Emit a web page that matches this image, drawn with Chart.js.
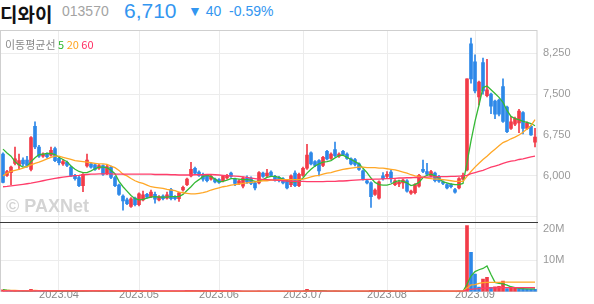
<!DOCTYPE html>
<html>
<head>
<meta charset="utf-8">
<script src="https://cdn.jsdelivr.net/npm/chart.js@4.4.0/dist/chart.umd.min.js"></script>
<style>
body { margin: 0; background: #fff; }
#wrap { position: relative; width: 594px; height: 304px; overflow: hidden; font-family: "Liberation Sans", Arial, sans-serif; }
.t { position: absolute; white-space: nowrap; line-height: 1; }
#chart { position: absolute; left: 0; top: 30px; }
</style>
</head>
<body>
<div id="wrap">
  <span class="t" style="left:0;top:0px;font:bold 19px 'Noto Sans CJK KR';color:#111">디와이</span>
  <span class="t" style="left:62px;top:4px;font-size:14px;color:#a3a3a3">013570</span>
  <span class="t" style="left:124px;top:0px;font-size:21px;color:#3396f0">6,710</span>
  <span class="t" style="left:188px;top:4px;font-size:14px;color:#3396f0">▼ 40 &nbsp;-0.59%</span>
  <canvas id="chart" width="594" height="274"></canvas>
  <span class="t" style="left:5px;top:36px;font:11px 'Noto Sans CJK KR';color:#888">이동평균선 <span style="color:#2eb82e">5</span> <span style="color:#ffa41c">20</span> <span style="color:#ff2d62">60</span></span>
  <span class="t" style="left:6px;top:196px;font:bold 18px 'Liberation Sans';color:#d4d4d4">© PAXNet</span>
</div>
<script>
// trading days shown (2023)
var months = ['03', '04', '05', '06', '07', '08', '09'];
var days = [
  [14,15,16,17,20,21,22,23,24,27,28,29,30,31],
  [3,4,5,6,7,10,11,12,13,14,17,18,19,20,21,24,25,26,27,28],
  [2,3,4,8,9,10,11,12,15,16,17,18,19,22,23,24,25,26,30,31],
  [1,2,5,7,8,9,12,13,14,15,16,19,20,21,22,23,26,27,28,29,30],
  [3,4,5,6,7,10,11,12,13,14,17,18,19,20,21,24,25,26,27,28,31],
  [1,2,3,4,7,8,9,10,11,14,16,17,18,21,22,23,24,25,28,29,30,31],
  [1,4,5,6,7,8,11,12,13,14,15,18,19,20,21,22]
];
var monthTicks = ['2023.04', '2023.05', '2023.06', '2023.07', '2023.08', '2023.09'];

var open = [6400,6010,6060,6230,6200,6290,6290,6120,6910,6530, 6360,6400,6380,6500,6320,6220,6250,6160,6010,5970,
  5820,6180,6220,6200,6140,6190,6040,6160,5970,5830, 5630,5560,5440,5590,5470,5560,5660,5620,5660,5560,
  5630,5590,5750,5620,5580,5740,5840,6000,6140,6070, 6030,6010,5940,5940,5930,5910,5960,6050,5940,5860,
  5810,5960,5960,5870,5870,6050,6000,6070,5990,5970, 5950,5910,5840,6050,5820,6010,6140,6420,6260,6280,
  6190,6450,6320,6480,6360,6450,6400,6310,6300,6220, 6090,5910,5870,5660,5590,6000,5990,6070,5840,5850,
  5870,5910,5680,5690,5810,6120,6080,6000,6050,5990, 5890,5840,5840,5750,5780,5940,6110,8420,8090,7450,
  8080,7470,7500,7370,7390,7640,7260,6870,6950,6970, 7160,6870,6910,6620];
var high = [6420,6100,6180,6530,6400,6330,6360,6720,6990,6560, 6420,6420,6530,6530,6340,6300,6270,6180,6030,5990,
  6040,6400,6240,6220,6210,6200,6200,6180,5990,5850, 5650,5590,5600,5610,5690,5720,5680,5740,5700,5640,
  5650,5700,5770,5640,5700,5810,5960,6250,6160,6090, 6050,6030,6010,5960,5950,6010,6030,6070,5960,5930,
  5980,6000,5980,5890,6080,6070,6120,6090,6010,5990, 5970,5930,6020,6090,6050,6160,6580,6440,6280,6300,
  6360,6470,6420,6620,6420,6470,6420,6330,6320,6240, 6110,5930,5890,5760,5910,6060,6080,6100,5930,5920,
  5940,5930,5740,5860,6030,6290,6230,6100,6070,6010, 5910,5860,5860,5770,5970,6050,7780,8530,8220,7740,
  8160,8140,7520,7390,7410,7780,7280,7090,7080,7220, 7180,6990,6930,6870];
var low = [5870,5990,5840,6200,6120,6180,6160,6090,6500,6340, 6340,6330,6360,6260,6200,6190,6170,5990,5920,5800,
  5710,6160,6140,6100,6120,6010,6020,5950,5800,5640, 5370,5470,5420,5450,5450,5540,5590,5600,5500,5540,
  5560,5570,5560,5560,5530,5720,5820,5980,6030,5990, 5900,5890,5920,5870,5860,5890,5940,5970,5820,5840,
  5780,5860,5840,5740,5850,5970,5980,5990,5900,5890, 5850,5760,5800,5800,5800,5990,6120,6200,6170,6000,
  6170,6290,6300,6350,6340,6370,6300,6200,6180,6100, 5920,5850,5420,5640,5570,5920,5950,5880,5820,5800,
  5770,5700,5660,5670,5790,6060,6010,5980,5890,5880, 5840,5760,5780,5680,5760,5920,6090,7700,7520,7300,
  7500,7450,7140,7050,7100,6980,6790,6850,6920,6790, 6770,6850,6740,6530];
var close = [5880,6080,6160,6310,6280,6220,6190,6700,6530,6360, 6400,6350,6470,6280,6240,6260,6190,6000,5950,5820,
  6030,6290,6160,6120,6190,6030,6170,5970,5820,5660, 5540,5490,5580,5470,5670,5650,5610,5700,5570,5620,
  5580,5650,5580,5580,5690,5790,5940,6120,6050,6010, 5940,5910,5990,5890,5880,5990,6010,5990,5860,5910,
  5960,5890,5860,5780,6060,5990,6050,6010,5920,5910, 5870,5780,6000,5820,6030,6140,6380,6220,6190,6090,
  6340,6310,6400,6370,6400,6390,6320,6220,6210,6120, 5940,5870,5620,5740,5890,5950,6030,5950,5910,5880,
  5920,5720,5720,5840,6010,6080,6030,6080,5910,5900, 5860,5780,5800,5700,5950,6010,7780,7780,7560,7720,
  7560,7580,7280,7130,7130,7000,6810,6990,7050,7190, 6870,6970,6750,6710];

var ma5 = [6490,6420,6360,6260,6200,6160,6170,6260,6330,6390, 6400,6410,6410,6390,6340,6300,6260,6180,6120,6080,
  6060,6060,6090,6130,6160,6160,6150,6100,6040,5900, 5800,5720,5640,5580,5560,5570,5590,5610,5620,5610,
  5610,5610,5620,5620,5620,5660,5730,5800,5880,5930, 5990,6010,5990,5940,5890,5900,5920,5950,5950,5940,
  5930,5930,5920,5900,5900,5930,5970,5990,5990,5970, 5940,5910,5890,5890,5900,5960,6050,6120,6180,6220,
  6250,6260,6280,6330,6370,6380,6340,6300,6260,6220, 6140,6060,5960,5880,5840,5830,5830,5850,5890,5910,
  5900,5870,5820,5840,5880,5970,6010,6030,6000,5950, 5890,5870,5850,5840,5840,5860,6240,6640,7000,7300,
  7620,7650,7580,7510,7440,7350,7200,7090,7050,7030, 7000,6980,6960,6920];
var ma20 = [6000,6050,6080,6100,6120,6140,6170,6200,6230,6250, 6280,6310,6340,6360,6360,6340,6320,6300,6280,6270,
  6260,6250,6240,6230,6220,6220,6210,6180,6150,6100, 6030,6000,5950,5910,5880,5860,5830,5800,5790,5780,
  5770,5750,5740,5730,5700,5690,5680,5670,5670,5680, 5690,5710,5740,5760,5780,5800,5810,5830,5840,5850,
  5860,5870,5880,5890,5900,5910,5910,5920,5920,5930, 5930,5930,5930,5930,5930,5940,5960,5980,6000,6010,
  6030,6050,6060,6080,6100,6120,6130,6140,6150,6160, 6160,6150,6150,6150,6140,6140,6130,6120,6110,6090,
  6070,6050,6020,6000,5990,5970,5960,5950,5940,5940, 5930,5920,5910,5900,5900,5900,5990,6080,6160,6230,
  6300,6360,6430,6490,6550,6610,6640,6680,6710,6750, 6800,6860,6920,7030];
var ma60 = [5800,5805,5815,5825,5835,5845,5855,5865,5880,5895, 5910,5925,5940,5955,5965,5975,5985,5995,6005,6010,
  6020,6025,6030,6030,6035,6035,6035,6035,6030,6030, 6030,6030,6030,6030,6030,6030,6030,6030,6025,6025,
  6025,6025,6020,6020,6015,6015,6015,6015,6020,6020, 6020,6025,6025,6020,6015,6010,6005,6000,5995,5990,
  5980,5970,5960,5950,5940,5935,5930,5925,5920,5915, 5910,5905,5900,5900,5900,5900,5895,5895,5895,5895,
  5895,5900,5900,5900,5905,5905,5910,5915,5920,5925, 5930,5935,5935,5940,5940,5945,5950,5950,5955,5960,
  5960,5965,5965,5970,5970,5975,5975,5980,5980,5985, 5985,5985,5990,5990,5995,5995,6010,6040,6060,6080,
  6100,6130,6160,6180,6200,6230,6250,6270,6280,6300, 6310,6330,6350,6360];

// volume, thousand shares
var volume = [600,350,250,300,200,180,150,750,420,230, 150,120,180,200,140,110,100,160,120,200,
  230,260,150,120,100,130,110,150,180,240, 260,150,170,120,160,130,90,110,120,80,
  90,100,140,80,110,130,380,420,200,130, 150,120,100,90,110,130,100,120,140,90,
  150,110,120,140,200,130,120,100,110,90, 100,140,180,200,190,220,800,450,200,260,
  230,180,150,220,120,130,110,140,120,130, 180,150,450,300,260,140,120,160,110,100,
  110,160,120,150,220,240,160,130,140,110, 100,120,110,130,200,230,21000,12500,5600,1500,
  4000,4600,1400,1600,1700,3400,1000,1100,1150,1000, 900,850,800,750];
var volMa5 = [650,500,380,320,300,260,220,320,340,350, 340,330,220,180,160,150,150,140,130,140,
  160,190,190,190,170,150,120,120,130,160, 190,200,200,190,170,150,130,120,120,110,
  100,100,110,100,100,110,170,220,250,250, 260,200,140,120,110,110,110,110,120,120,
  120,120,120,120,140,140,140,140,130,120, 100,110,120,140,160,190,300,370,370,390,
  390,260,210,200,180,160,150,140,130,130, 140,150,210,240,270,260,250,200,160,140,
  130,130,120,130,150,180,180,180,170,170, 150,130,120,120,130,160,2400,5000,6400,7000,
  7400,8200,5500,3000,2700,2500,2100,1600,1300,1100, 1000,900,900,900];
var volMa20 = [400,410,420,410,400,400,390,400,410,400, 400,400,390,390,380,380,370,370,360,360,
  350,350,340,340,330,330,320,320,300,180, 170,170,170,160,160,160,160,150,150,150,
  150,150,150,150,150,160,170,180,180,180, 180,180,180,170,170,170,160,160,160,150,
  150,150,150,150,150,150,150,150,140,140, 140,140,140,150,150,160,190,200,200,210,
  220,220,220,230,230,230,230,220,220,220, 210,210,220,220,220,220,210,210,210,200,
  200,200,190,190,190,180,180,180,180,180, 170,170,170,170,170,170,1200,2200,2300,2700,
  2900,3000,3000,3000,3000,3050,3050,3050,3050,3050, 3050,3050,3050,3050];
var volMa60 = [250,250,250,250,250,250,250,250,250,250, 250,250,250,250,250,250,250,250,250,250,
  250,250,250,250,250,250,250,250,250,250, 250,250,250,250,250,250,250,250,250,250,
  250,250,250,250,250,250,250,250,250,250, 250,250,250,250,250,250,250,250,250,250,
  240,240,240,240,240,240,240,240,240,240, 240,240,240,240,240,240,240,240,240,240,
  230,230,230,230,230,230,230,230,230,230, 230,230,230,230,230,230,230,230,230,230,
  220,220,220,220,220,220,220,220,220,220, 220,220,220,220,220,220,600,800,950,1000,
  1100,1200,1250,1250,1300,1300,1300,1300,1300,1300, 1300,1300,1300,1300];

var priceTicks = [5250, 6000, 6750, 7500, 8250];
var volTicks = [0, 10000, 20000];

var UP = '#f23b48', DOWN = '#2d88e8';

var labels = [];
var monthLabelAt = {};
months.forEach(function (m, k) {
  days[k].forEach(function (d, j) {
    var lab = '2023.' + m + '.' + (d < 10 ? '0' + d : d);
    if (j === 0 && monthTicks.indexOf('2023.' + m) >= 0) monthLabelAt[labels.length] = '2023.' + m;
    labels.push(lab);
  });
});

var wicks = low.map(function (l, i) { return [l, high[i]]; });
var bodies = open.map(function (o, i) { return [o, close[i]]; });
function candleColor(ctx) { return close[ctx.dataIndex] >= open[ctx.dataIndex] ? UP : DOWN; }
function volColor(ctx) {
  var i = ctx.dataIndex;
  return (i === 0 || volume[i] >= volume[i - 1]) ? UP : DOWN;
}
function line(data, color, axis) {
  return { type: 'line', data: data, yAxisID: axis, borderColor: color, borderWidth: 1.3,
    pointRadius: 0, tension: 0, order: 0 };
}
function fixWidth(s) { s.width = 57; s.paddingTop = 0; s.paddingBottom = 0; }

var framePlugin = {
  id: 'frame',
  beforeDatasetsDraw: function (chart) {
    var c = chart.ctx, a = chart.chartArea, yP = chart.scales.yP;
    c.save();
    c.strokeStyle = '#cfcfcf';
    c.lineWidth = 1;
    c.strokeRect(a.left - 0.5, a.top + 0.5, a.right - a.left + 0.5, a.bottom - a.top - 1);
    c.strokeStyle = '#3a3a3a';
    c.beginPath();
    c.moveTo(0, Math.round(yP.bottom) + 0.5);
    c.lineTo(a.right + 1, Math.round(yP.bottom) + 0.5);
    c.stroke();
    c.restore();
  }
};

new Chart(document.getElementById('chart').getContext('2d'), {
  data: {
    labels: labels,
    datasets: [
      line(ma60, '#ff3d6a', 'yP'),
      line(ma20, '#ffa726', 'yP'),
      line(ma5, '#35b935', 'yP'),
      line(volMa60, '#ff3d6a', 'yV'),
      line(volMa20, '#ffa726', 'yV'),
      line(volMa5, '#35b935', 'yV'),
      { type: 'bar', data: bodies, yAxisID: 'yP', backgroundColor: candleColor, barThickness: 3,
        minBarLength: 1, grouped: false, order: 1 },
      { type: 'bar', data: wicks, yAxisID: 'yP', backgroundColor: candleColor, barThickness: 1,
        grouped: false, order: 2 },
      { type: 'bar', data: volume, yAxisID: 'yV', backgroundColor: volColor, barThickness: 3,
        grouped: false, order: 1 }
    ]
  },
  options: {
    responsive: false,
    animation: false,
    devicePixelRatio: 1,
    layout: { padding: { left: 1, right: 0, top: 0, bottom: 5 } },
    plugins: { legend: { display: false }, tooltip: { enabled: false } },
    scales: {
      x: {
        type: 'category',
        offset: true,
        border: { display: false },
        grid: {
          offset: false,
          drawTicks: false,
          color: function (ctx) { return monthLabelAt[ctx.index] ? '#ececec' : 'rgba(0,0,0,0)'; }
        },
        ticks: {
          autoSkip: false,
          maxRotation: 0,
          padding: -3,
          color: '#888',
          font: { family: 'Liberation Sans', size: 11 },
          callback: function (v, i) { return monthLabelAt[i] || ''; }
        }
      },
      yP: {
        type: 'linear',
        position: 'right',
        stack: 'pane',
        stackWeight: 188,
        min: 5162,
        max: 8676,
        border: { display: false },
        afterBuildTicks: function (s) { s.ticks = priceTicks.map(function (v) { return { value: v }; }); },
        afterFit: fixWidth,
        grid: { drawTicks: false, color: '#ececec' },
        ticks: {
          autoSkip: false,
          padding: 6,
          color: '#999',
          font: { family: 'Liberation Sans', size: 11 },
          callback: function (v) { return v === 5250 ? '' : v.toLocaleString('en-US'); }
        }
      },
      yV: {
        type: 'linear',
        position: 'right',
        stack: 'pane',
        stackWeight: 69,
        min: 0,
        max: 22300,
        border: { display: false },
        afterBuildTicks: function (s) { s.ticks = volTicks.map(function (v) { return { value: v }; }); },
        afterFit: fixWidth,
        grid: { drawTicks: false, color: '#ececec' },
        ticks: {
          autoSkip: false,
          padding: 6,
          color: '#999',
          font: { family: 'Liberation Sans', size: 11 },
          callback: function (v) { return v === 0 ? '' : (v / 1000) + 'M'; }
        }
      }
    }
  },
  plugins: [framePlugin]
});
</script>
</body>
</html>
